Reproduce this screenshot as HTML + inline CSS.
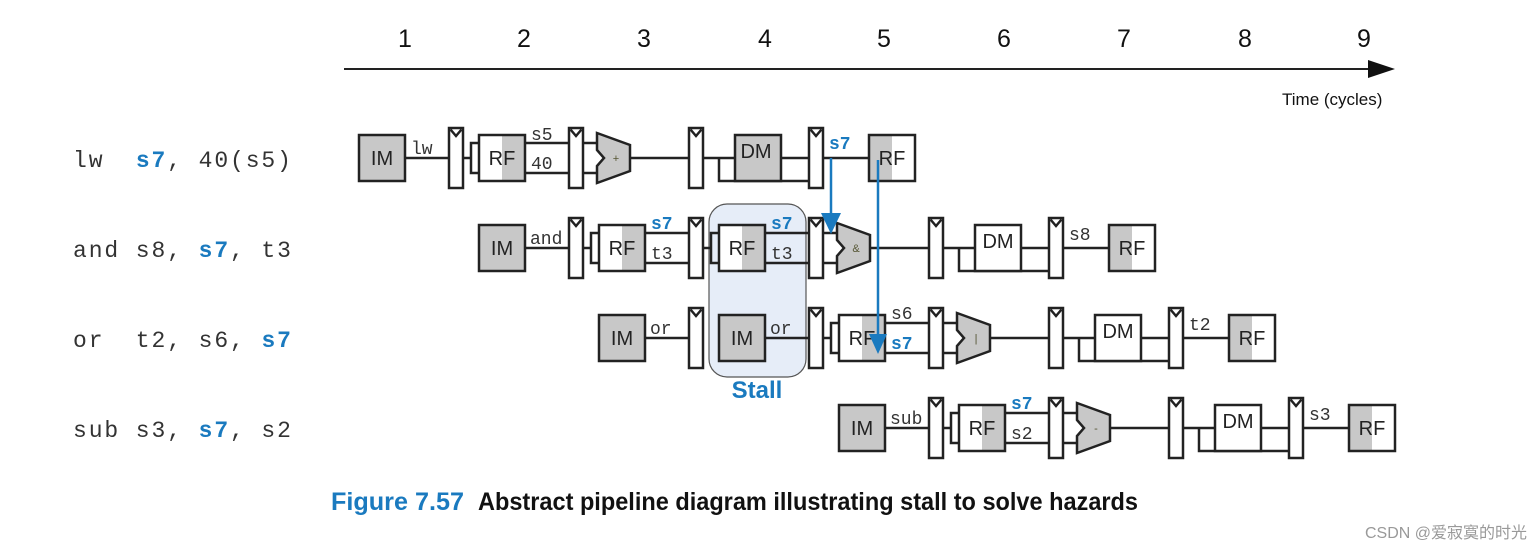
<!DOCTYPE html>
<html><head><meta charset="utf-8"><style>
html,body{margin:0;padding:0;background:#fff}
svg{display:block}
.m{font-family:"Liberation Mono",monospace;font-size:18px;fill:#333}
.b{font-family:"Liberation Mono",monospace;font-size:18px;font-weight:bold;fill:#1a7abf}
.i{font-family:"Liberation Mono",monospace;font-size:23px;letter-spacing:1.9px;fill:#333;white-space:pre}
.s{font-family:"Liberation Sans",sans-serif;font-size:20px;fill:#222}
</style></head><body>
<svg width="1537" height="551" viewBox="0 0 1537 551" xmlns="http://www.w3.org/2000/svg">
<defs>
<g id="reg" fill="#fff" stroke="#222" stroke-width="2.5"><rect x="0" y="-30" width="14" height="60"/><path d="M1.5,-28.5 L7,-22 L12.5,-28.5" fill="none"/></g>
<g id="alu" stroke="#222" stroke-width="2.5"><polygon points="0,-25 33,-13 33,13 0,25 0,8 7,0 0,-8" fill="#c8c8c8"/></g>
<g id="im"><rect x="0" y="-23" width="46" height="46" fill="#c8c8c8" stroke="#222" stroke-width="2.5"/></g>
<g id="rfr"><rect x="0" y="-23" width="46" height="46" fill="#fff"/><rect x="23" y="-23" width="23" height="46" fill="#c8c8c8"/><rect x="0" y="-23" width="46" height="46" fill="none" stroke="#222" stroke-width="2.5"/></g>
<g id="rfw"><rect x="0" y="-23" width="46" height="46" fill="#fff"/><rect x="0" y="-23" width="23" height="46" fill="#c8c8c8"/><rect x="0" y="-23" width="46" height="46" fill="none" stroke="#222" stroke-width="2.5"/></g>
<g id="dmw"><rect x="0" y="-23" width="46" height="46" fill="#fff" stroke="#222" stroke-width="2.5"/></g>
<g id="dmg"><rect x="0" y="-23" width="46" height="46" fill="#c8c8c8" stroke="#222" stroke-width="2.5"/></g>
<g id="w0" fill="none" stroke="#222" stroke-width="2.5"><path d="M46,0 H90"/></g>
<g id="w1" fill="none" stroke="#222" stroke-width="2.5"><path d="M104,0 H112 M120,-15 H112 V15 H120 M166,-15 H238 M166,15 H238 M271,0 H330 M344,0 H376 M360,0 V23 H450 M422,0 H450 M464,0 H510"/></g>
</defs>

<rect x="709" y="204" width="97" height="173" rx="18" fill="#e6edf8" stroke="#555" stroke-width="1.2"/>
<text x="757" y="398" text-anchor="middle" font-family="Liberation Sans,sans-serif" font-weight="bold" font-size="24" fill="#1a7abf">Stall</text>

<g font-family="Liberation Sans,sans-serif" font-size="25" fill="#111" text-anchor="middle">
<text x="405" y="47">1</text><text x="524" y="47">2</text><text x="644" y="47">3</text><text x="765" y="47">4</text><text x="884" y="47">5</text><text x="1004" y="47">6</text><text x="1124" y="47">7</text><text x="1245" y="47">8</text><text x="1364" y="47">9</text>
</g>
<line x1="344" y1="69" x2="1372" y2="69" stroke="#222" stroke-width="2"/>
<polygon points="1368,60 1395,69 1368,78" fill="#111"/>
<text x="1282" y="105" font-family="Liberation Sans,sans-serif" font-size="17" fill="#111">Time (cycles)</text>

<text class="i" x="73" y="167" xml:space="preserve">lw  <tspan font-weight="bold" fill="#1a7abf">s7</tspan>, 40(s5)</text>
<text class="i" x="73" y="257" xml:space="preserve">and s8, <tspan font-weight="bold" fill="#1a7abf">s7</tspan>, t3</text>
<text class="i" x="73" y="347" xml:space="preserve">or  t2, s6, <tspan font-weight="bold" fill="#1a7abf">s7</tspan></text>
<text class="i" x="73" y="437" xml:space="preserve">sub s3, <tspan font-weight="bold" fill="#1a7abf">s7</tspan>, s2</text>

<g transform="translate(359,158)">
<use href="#w0"/><use href="#w1"/>
<use href="#im"/><use href="#reg" x="90"/><use href="#rfr" x="120"/><use href="#reg" x="210"/><use href="#alu" x="238"/><use href="#reg" x="330"/><use href="#dmg" x="376"/><use href="#reg" x="450"/><use href="#rfw" x="510"/>
</g>
<g transform="translate(479,248)"><use href="#w0"/><use href="#im"/><use href="#reg" x="90"/></g>
<g transform="translate(599,248)">
<path d="M-16,0 H-8 M0,-15 H-8 V15 H0" fill="none" stroke="#222" stroke-width="2.5"/>
<use href="#w1"/>
<use href="#rfr"/><use href="#reg" x="90"/><use href="#rfr" x="120"/><use href="#reg" x="210"/><use href="#alu" x="238"/><use href="#reg" x="330"/><use href="#dmw" x="376"/><use href="#reg" x="450"/><use href="#rfw" x="510"/>
<path d="M46,-15 H90 M46,15 H90" fill="none" stroke="#222" stroke-width="2.5"/>
</g>
<g transform="translate(599,338)"><use href="#w0"/><use href="#im"/><use href="#reg" x="90"/></g>
<g transform="translate(719,338)">
<use href="#w0"/><use href="#w1"/>
<use href="#im"/><use href="#reg" x="90"/><use href="#rfr" x="120"/><use href="#reg" x="210"/><use href="#alu" x="238"/><use href="#reg" x="330"/><use href="#dmw" x="376"/><use href="#reg" x="450"/><use href="#rfw" x="510"/>
</g>
<g transform="translate(839,428)">
<use href="#w0"/><use href="#w1"/>
<use href="#im"/><use href="#reg" x="90"/><use href="#rfr" x="120"/><use href="#reg" x="210"/><use href="#alu" x="238"/><use href="#reg" x="330"/><use href="#dmw" x="376"/><use href="#reg" x="450"/><use href="#rfw" x="510"/>
</g>

<g class="s" text-anchor="middle">
<text x="382" y="165">IM</text><text x="502" y="165">RF</text><text x="756" y="158">DM</text><text x="892" y="165">RF</text>
<text x="502" y="255">IM</text><text x="622" y="255">RF</text><text x="742" y="255">RF</text><text x="998" y="248">DM</text><text x="1132" y="255">RF</text>
<text x="622" y="345">IM</text><text x="742" y="345">IM</text><text x="862" y="345">RF</text><text x="1118" y="338">DM</text><text x="1252" y="345">RF</text>
<text x="862" y="435">IM</text><text x="982" y="435">RF</text><text x="1238" y="428">DM</text><text x="1372" y="435">RF</text>
</g>
<g font-family="Liberation Sans,sans-serif" font-size="11" fill="#553" text-anchor="middle">
<text x="616" y="162">+</text><text x="856" y="252">&amp;</text><text x="976" y="342">|</text><text x="1096" y="432">-</text>
</g>

<text class="m" x="411" y="154">lw</text>
<text class="m" x="531" y="140">s5</text><text class="m" x="531" y="169">40</text>
<text class="b" x="829" y="149">s7</text>
<text class="m" x="530" y="244">and</text>
<text class="b" x="651" y="229">s7</text><text class="m" x="651" y="259">t3</text>
<text class="b" x="771" y="229">s7</text><text class="m" x="771" y="259">t3</text>
<text class="m" x="1069" y="240">s8</text>
<text class="m" x="650" y="334">or</text><text class="m" x="770" y="334">or</text>
<text class="m" x="891" y="319">s6</text><text class="b" x="891" y="349">s7</text>
<text class="m" x="1189" y="330">t2</text>
<text class="m" x="890" y="424">sub</text>
<text class="b" x="1011" y="409">s7</text><text class="m" x="1011" y="439">s2</text>
<text class="m" x="1309" y="420">s3</text>

<line x1="831" y1="158" x2="831" y2="218" stroke="#1a7abf" stroke-width="2.5"/>
<polygon points="821,213 841,213 831,234" fill="#1a7abf"/>
<line x1="878" y1="160" x2="878" y2="338" stroke="#1a7abf" stroke-width="2.5"/>
<polygon points="869,334 887,334 878,354" fill="#1a7abf"/>

<text x="331" y="510" font-family="Liberation Sans Narrow,Liberation Sans,sans-serif" font-weight="bold" font-size="25" fill="#1a7abf" textLength="133" lengthAdjust="spacingAndGlyphs">Figure 7.57</text>
<text x="478" y="510" font-family="Liberation Sans Narrow,Liberation Sans,sans-serif" font-weight="bold" font-size="25" fill="#111" textLength="660" lengthAdjust="spacingAndGlyphs">Abstract pipeline diagram illustrating stall to solve hazards</text>
<text x="1365" y="538" font-family="Liberation Sans,Noto Sans CJK SC,sans-serif" font-size="16" fill="#999">CSDN @爱寂寞的时光</text>
</svg>
</body></html>
